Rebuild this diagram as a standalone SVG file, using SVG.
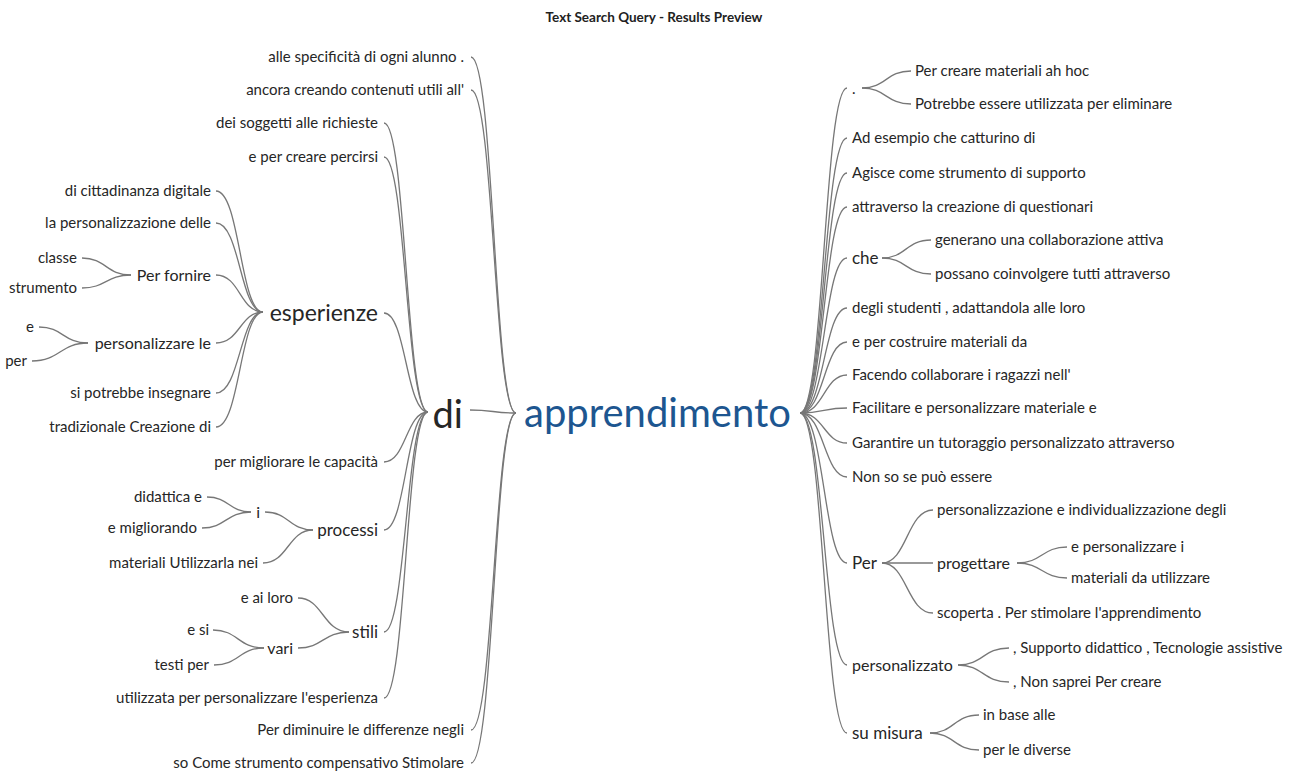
<svg xmlns="http://www.w3.org/2000/svg" width="1294" height="773" viewBox="0 0 1294 773">
<style>
text{font-family:Lato,"Liberation Sans",sans-serif;fill:#262626}
.lf{font-size:15px}
.md{font-size:16px}
.m7{font-size:17px}
.l{text-anchor:end}
.title{font-size:13.5px;font-weight:bold;text-anchor:middle;fill:#222}
.big{font-size:38px}
.root{font-size:40px;fill:#1d5690}
#connectors path{fill:none;stroke:#777;stroke-width:1.3}
</style>
<rect width="1294" height="773" fill="#fff"/>
<text class="title" x="654" y="22">Text Search Query - Results Preview</text>
<g id="connectors">
<path d="M471 57C494 57 494 413 516 413"/>
<path d="M471 90C494 90 494 413 516 413"/>
<path d="M471 730C494 730 494 413 516 413"/>
<path d="M471 763C494 763 494 413 516 413"/>
<path d="M470 410C493 410 493 413 516 413"/>
<path d="M384 123C406 123 406 412 428 412"/>
<path d="M384 157C406 157 406 412 428 412"/>
<path d="M384 313C406 313 406 412 428 412"/>
<path d="M384 462C406 462 406 412 428 412"/>
<path d="M384 530C406 530 406 412 428 412"/>
<path d="M384 632C406 632 406 412 428 412"/>
<path d="M384 698C406 698 406 412 428 412"/>
<path d="M216 191C240 191 240 312 263 312"/>
<path d="M216 223C240 223 240 312 263 312"/>
<path d="M216 275C240 275 240 312 263 312"/>
<path d="M216 343C240 343 240 312 263 312"/>
<path d="M216 393C240 393 240 312 263 312"/>
<path d="M216 427C240 427 240 312 263 312"/>
<path d="M82 258C106 258 106 275 131 275"/>
<path d="M82 288C106 288 106 275 131 275"/>
<path d="M39 327C63 327 63 343 88 343"/>
<path d="M32 361C60 361 60 343 88 343"/>
<path d="M207 497C229 497 229 512 251 512"/>
<path d="M202 528C226 528 226 512 251 512"/>
<path d="M265 512C289 512 289 530 313 530"/>
<path d="M263 563C288 563 288 530 313 530"/>
<path d="M298 598C323 598 323 632 349 632"/>
<path d="M298 648C323 648 323 632 349 632"/>
<path d="M213 630C238 630 238 648 264 648"/>
<path d="M214 665C239 665 239 648 264 648"/>
<path d="M800 413C824 413 824 88 847 88"/>
<path d="M800 413C824 413 824 138 847 138"/>
<path d="M800 413C824 413 824 173 847 173"/>
<path d="M800 413C824 413 824 207 847 207"/>
<path d="M800 413C824 413 824 258 847 258"/>
<path d="M800 413C824 413 824 308 847 308"/>
<path d="M800 413C824 413 824 342 847 342"/>
<path d="M800 413C824 413 824 375 847 375"/>
<path d="M800 413C824 413 824 408 847 408"/>
<path d="M800 413C824 413 824 443 847 443"/>
<path d="M800 413C824 413 824 477 847 477"/>
<path d="M800 413C824 413 824 563 847 563"/>
<path d="M800 413C824 413 824 665 847 665"/>
<path d="M800 413C824 413 824 733 847 733"/>
<path d="M862 88C886 88 886 71 911 71"/>
<path d="M862 88C886 88 886 104 911 104"/>
<path d="M882 258C906 258 906 240 931 240"/>
<path d="M882 258C906 258 906 274 931 274"/>
<path d="M882 563C907 563 907 510 933 510"/>
<path d="M882 563C907 563 907 563 933 563"/>
<path d="M882 563C907 563 907 613 933 613"/>
<path d="M1017 563C1042 563 1042 547 1067 547"/>
<path d="M1017 563C1042 563 1042 578 1067 578"/>
<path d="M958 665C983 665 983 648 1009 648"/>
<path d="M958 665C983 665 983 682 1009 682"/>
<path d="M930 733C954 733 954 715 979 715"/>
<path d="M930 733C954 733 954 750 979 750"/>
</g>
<g id="n-root"><text class="root" x="524" y="427">apprendimento</text></g>
<g id="n-di"><text class="big l" x="463" y="428">di</text></g>
<g id="n-l1a"><text class="lf l" x="464" y="62">alle specificità di ogni alunno .</text></g>
<g id="n-l1b"><text class="lf l" x="464" y="95">ancora creando contenuti utili all'</text></g>
<g id="n-l1c"><text class="lf l" x="464" y="735">Per diminuire le differenze negli</text></g>
<g id="n-l1d"><text class="lf l" x="464" y="768">so Come strumento compensativo Stimolare</text></g>
<g id="n-d1"><text class="lf l" x="378" y="128">dei soggetti alle richieste</text></g>
<g id="n-d2"><text class="lf l" x="378" y="162">e per creare percirsi</text></g>
<g id="n-esp"><text class="l" style="font-size:23px" x="378" y="321">esperienze</text></g>
<g id="n-d3"><text class="lf l" x="378" y="467">per migliorare le capacità</text></g>
<g id="n-proc"><text class="m7 l" x="378" y="536">processi</text></g>
<g id="n-stili"><text class="m7 l" x="378" y="638">stili</text></g>
<g id="n-d4"><text class="lf l" x="378" y="703">utilizzata per personalizzare l'esperienza</text></g>
<g id="n-e1"><text class="lf l" x="211" y="196">di cittadinanza digitale</text></g>
<g id="n-e2"><text class="lf l" x="211" y="228">la personalizzazione delle</text></g>
<g id="n-perf"><text class="md l" x="211" y="280.5">Per fornire</text></g>
<g id="n-pers"><text class="md l" x="211" y="348.5">personalizzare le</text></g>
<g id="n-e3"><text class="lf l" x="211" y="398">si potrebbe insegnare</text></g>
<g id="n-e4"><text class="lf l" x="211" y="432">tradizionale Creazione di</text></g>
<g id="n-classe"><text class="lf l" x="77" y="263">classe</text></g>
<g id="n-strum"><text class="lf l" x="77" y="293">strumento</text></g>
<g id="n-e"><text class="lf l" x="34" y="332">e</text></g>
<g id="n-per"><text class="lf l" x="27" y="366">per</text></g>
<g id="n-i"><text class="md l" x="260" y="517.5">i</text></g>
<g id="n-did"><text class="lf l" x="202" y="502">didattica e</text></g>
<g id="n-emig"><text class="lf l" x="197" y="533">e migliorando</text></g>
<g id="n-mat"><text class="lf l" x="258" y="568">materiali Utilizzarla nei</text></g>
<g id="n-eai"><text class="lf l" x="293" y="603">e ai loro</text></g>
<g id="n-vari"><text class="md l" x="293" y="653.5">vari</text></g>
<g id="n-esi"><text class="lf l" x="209" y="635">e si</text></g>
<g id="n-testi"><text class="lf l" x="209" y="670">testi per</text></g>
<g id="n-dot"><text class="lf" x="852" y="94">.</text></g>
<g id="n-r1"><text class="lf" x="915" y="76">Per creare materiali ah hoc</text></g>
<g id="n-r2"><text class="lf" x="915" y="109">Potrebbe essere utilizzata per eliminare</text></g>
<g id="n-r3"><text class="lf" x="852" y="143">Ad esempio che catturino di</text></g>
<g id="n-r4"><text class="lf" x="852" y="178">Agisce come strumento di supporto</text></g>
<g id="n-r5"><text class="lf" x="852" y="212">attraverso la creazione di questionari</text></g>
<g id="n-che"><text class="m7" x="852" y="264">che</text></g>
<g id="n-r6"><text class="lf" x="935" y="245">generano una collaborazione attiva</text></g>
<g id="n-r7"><text class="lf" x="935" y="279">possano coinvolgere tutti attraverso</text></g>
<g id="n-r8"><text class="lf" x="852" y="313">degli studenti , adattandola alle loro</text></g>
<g id="n-r9"><text class="lf" x="852" y="347">e per costruire materiali da</text></g>
<g id="n-r10"><text class="lf" x="852" y="380">Facendo collaborare i ragazzi nell'</text></g>
<g id="n-r11"><text class="lf" x="852" y="413">Facilitare e personalizzare materiale e</text></g>
<g id="n-r12"><text class="lf" x="852" y="448">Garantire un tutoraggio personalizzato attraverso</text></g>
<g id="n-r13"><text class="lf" x="852" y="482">Non so se può essere</text></g>
<g id="n-Per"><text class="m7" x="852" y="569">Per</text></g>
<g id="n-r14"><text class="lf" x="937" y="515">personalizzazione e individualizzazione degli</text></g>
<g id="n-prog"><text class="md" x="937" y="568.5">progettare</text></g>
<g id="n-r15"><text class="lf" x="1071" y="552">e personalizzare i</text></g>
<g id="n-r16"><text class="lf" x="1071" y="583">materiali da utilizzare</text></g>
<g id="n-r17"><text class="lf" x="937" y="618">scoperta . Per stimolare l'apprendimento</text></g>
<g id="n-pz"><text class="md" x="852" y="670.5">personalizzato</text></g>
<g id="n-r18"><text class="lf" x="1013" y="653">, Supporto didattico , Tecnologie assistive</text></g>
<g id="n-r19"><text class="lf" x="1013" y="687">, Non saprei Per creare</text></g>
<g id="n-sum"><text class="m7" x="852" y="739">su misura</text></g>
<g id="n-r20"><text class="lf" x="983" y="720">in base alle</text></g>
<g id="n-r21"><text class="lf" x="983" y="755">per le diverse</text></g>
</svg>
